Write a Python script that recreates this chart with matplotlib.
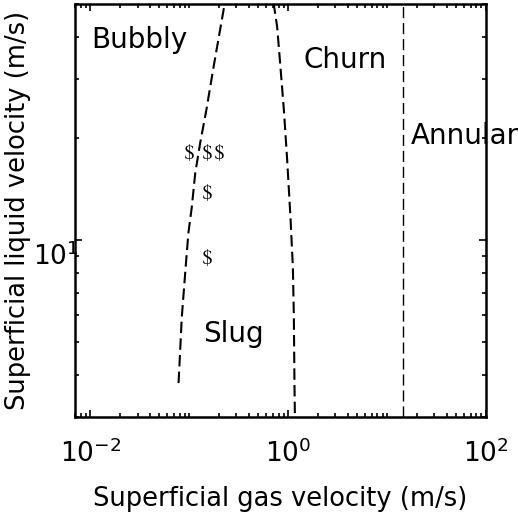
import matplotlib
matplotlib.use('Agg')
import matplotlib.pyplot as plt
from matplotlib.ticker import LogLocator, FixedLocator, NullFormatter
from matplotlib.transforms import ScaledTranslation

plt.rcParams['font.family'] = ['DejaVu Sans']
plt.rcParams['mathtext.fontset'] = 'stix'

# bubbly / slug boundary
bs_gas = [0.078, 0.084, 0.091, 0.098, 0.106, 0.115, 0.129, 0.149, 0.176, 0.227]
bs_liq = [3.78, 5.9, 8.0, 10.5, 12.5, 15.8, 19.4, 24.3, 32.5, 49.7]

# slug / churn boundary
sc_gas = [1.169, 1.158, 1.142, 1.116, 1.055, 0.977, 0.905, 0.836, 0.774, 0.717]
sc_liq = [3.08, 3.78, 5.93, 8.33, 11.7, 17.3, 24.3, 32.5, 42.8, 49.7]

# churn / annular boundary
ca_gas = 14.4

# measured points
pt_gas = [0.1, 0.15, 0.2, 0.15, 0.15]
pt_liq = [18.3, 18.3, 18.3, 13.9, 8.9]

regions = ['Bubbly', 'Churn', 'Annular', 'Slug']
reg_x = [0.0101, 1.42, 17.5, 0.138]
reg_y = [37.1, 32.3, 19.2, 5.0]

fig = plt.figure(figsize=(5.18, 5.18), dpi=100)
ax = fig.add_axes([0.1448, 0.195, 0.7934, 0.7973])

ax.plot(bs_gas, bs_liq, color='black', lw=1.5, linestyle=(0, (5.5, 2.5)))
ax.plot(sc_gas, sc_liq, color='black', lw=1.5, linestyle=(0, (5.5, 2.5)))
ax.axvline(ca_gas, color='black', lw=1, linestyle=(0, (8, 3.5)))
ax.plot(pt_gas, pt_liq, linestyle='none', marker=r'$\$$', markersize=12,
        markeredgewidth=0, color='black')

for name, x, y in zip(regions, reg_x, reg_y):
    ax.text(x, y, name, fontsize=20)

ax.set_xscale('log')
ax.set_yscale('log')
ax.set_xlim(0.007, 100)
ax.set_ylim(3, 50)

ax.xaxis.set_major_locator(FixedLocator([1e-2, 1e0, 1e2]))
ax.xaxis.set_minor_locator(LogLocator(base=10, subs=range(1, 10), numticks=30))
ax.xaxis.set_minor_formatter(NullFormatter())
ax.yaxis.set_minor_locator(LogLocator(base=10, subs=range(1, 10), numticks=30))
ax.yaxis.set_minor_formatter(NullFormatter())

ax.tick_params(which='both', direction='in', top=True, right=True,
               labelsize=19, width=1.2)
ax.tick_params(which='major', length=5)
ax.tick_params(which='minor', length=3)
ax.tick_params(axis='x', pad=16)
ax.tick_params(axis='y', pad=-3)
for s in ax.spines.values():
    s.set_linewidth(1.8)

# y tick label sits a bit below its tick in the original
fig.canvas.draw()
shift = ScaledTranslation(0, -10 / 72, fig.dpi_scale_trans)
for lab in ax.get_yticklabels():
    lab.set_transform(lab.get_transform() + shift)

ax.set_xlabel('Superficial gas velocity (m/s)', fontsize=18.5, labelpad=13)
ax.set_ylabel('Superficial liquid velocity (m/s)', fontsize=18.5, labelpad=2)

fig.savefig('out.png', dpi=100)
